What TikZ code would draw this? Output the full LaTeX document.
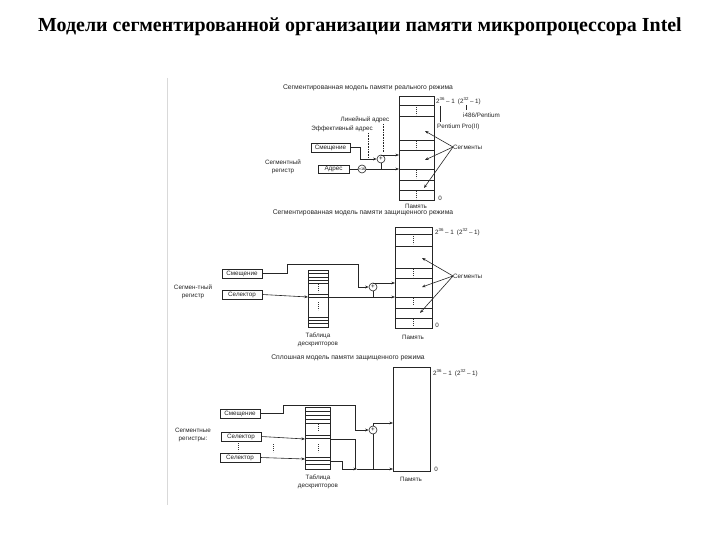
\documentclass[tikz,border=0pt]{standalone}
\usepackage{fontspec}
\setmainfont{Liberation Serif}
\setsansfont{Liberation Sans}
\usetikzlibrary{arrows.meta}
\newcommand\titlefnt{\rmfamily\bfseries\fontsize{20}{22}\selectfont}
\newcommand\lblfnt{\sffamily\fontsize{6.3}{7.5}\selectfont}
\newcommand\ttlfnt{\sffamily\fontsize{6.8}{8}\selectfont}
\newcommand\tinyfnt{\sffamily\fontsize{3.8}{4}\selectfont}
\newcommand\vdotsat[2]{\draw[black!80, line width=1bp, dash pattern=on 0.8bp off 1.2bp] (#1,#2-4) -- (#1,#2+4);}
\tikzset{
  ln/.style={line width=0.6bp, draw=black!85},
  arr/.style={ln, -{Stealth[length=3.6bp,width=2.8bp]}},
  lbl/.style={font=\lblfnt, inner sep=0, text=black!85},
  ttl/.style={font=\ttlfnt, inner sep=0, text=black!85},
  regbox/.style={draw=black!85, line width=0.7bp, font=\lblfnt, inner sep=0, minimum height=9bp, text=black!85},
  adder/.style={circle, draw=black!85, line width=0.6bp, minimum size=8bp, inner sep=0, font=\lblfnt},
  memcol/.style={draw=black!85, line width=0.7bp, inner sep=0, anchor=north west},
}
\begin{document}
\begin{tikzpicture}[x=1bp,y=-1bp]
\useasboundingbox (0,0) rectangle (720,540);
\fill[white] (0,0) rectangle (720,540);
\node[font=\titlefnt, inner sep=0] (title) at (360,27) {Модели сегментированной организации памяти микропроцессора Intel};
\draw[black!15, line width=0.8bp] (167,78) -- (167,505);

% ---------- section 1: real mode ----------
\node[ttl] (t1) at (368,88) {Сегментированная модель памяти реального режима};
\node[memcol, minimum width=35bp, minimum height=104bp] (mem1) at (399,96) {};
\foreach \y in {105,116,140,150,169,180,190} \draw[ln] (399,\y) -- (434,\y);
\vdotsat{416}{111}\vdotsat{416}{145}\vdotsat{416}{174}\vdotsat{416}{195}
\node[lbl, anchor=west] (top1) at (436,101) {2\textsuperscript{36}\,– 1\enspace(2\textsuperscript{32}\,– 1)};
\node[lbl, anchor=west] (i486) at (463,115) {i486/Pentium};
\node[lbl, anchor=west] (ppro) at (437,127) {Pentium Pro(II)};
\coordinate (v1a) at (440,106); \coordinate (v1b) at (440,122);
\coordinate (v2a) at (466,105); \coordinate (v2b) at (466,110);
\draw[ln] (v1a) -- (v1b);
\draw[ln] (v2a) -- (v2b);
\node[lbl, anchor=west] (segs1) at (453,147) {Сегменты};
\coordinate (s1a) at (425,131); \coordinate (s1b) at (425,160); \coordinate (s1c) at (424,188);
\draw[arr] (segs1.west) -- (s1a);
\draw[arr] (segs1.west) -- (s1b);
\draw[arr] (segs1.west) -- (s1c);
\node[lbl] (zero1) at (440,198) {0};
\node[lbl] (pam1) at (416,206) {Память};

\node[lbl] (lin1) at (365,120) {Линейный адрес};
\node[lbl] (eff1) at (342,129) {Эффективный адрес};
\node[regbox, minimum width=39bp] (off1) at (330.5,147.5) {Смещение};
\node[regbox, minimum width=31bp, minimum height=8bp] (adr1) at (333.5,169) {Адрес};
\node[lbl, align=center] (sreg1) at (283,167) {Сегментный\\регистр};
\node[adder, font=\tinyfnt] (mul1) at (362,169) {×16};
\node[adder] (add1) at (381,159) {+};
\coordinate (c1a) at (360,147.5); \coordinate (c1b) at (360,159);
\coordinate (in1) at (399,155);
\draw[arr] (off1.east) -- (c1a) -- (c1b) -- (add1.west);
\draw[ln] (adr1.east) -- (mul1.west);
\draw[arr] (mul1.east) -- (mem1.west |- mul1);
\draw[ln] (add1.south) -- (add1.south |- mul1);
\draw[arr] (add1.north) |- (in1);
\coordinate (d1a) at (383,124); \coordinate (d1b) at (383,152);
\coordinate (d2a) at (368,133); \coordinate (d2b) at (368,157);
\draw[ln, densely dotted] (d1a) -- (d1b);
\draw[ln, densely dotted] (d2a) -- (d2b);

% ---------- section 2: protected mode, segmented ----------
\node[ttl] (t2) at (363,213) {Сегментированная модель памяти защищенного режима};
\node[memcol, minimum width=37bp, minimum height=101bp] (mem2) at (395,227) {};
\foreach \y in {234,246,268,278,297,308,318} \draw[ln] (395,\y) -- (432,\y);
\vdotsat{413}{240}\vdotsat{413}{273}\vdotsat{413}{302}\vdotsat{413}{323}
\node[lbl, anchor=west] (top2) at (435,232) {2\textsuperscript{36}\,– 1\enspace(2\textsuperscript{32}\,– 1)};
\node[lbl, anchor=west] (segs2) at (453,276) {Сегменты};
\coordinate (s2a) at (422,258); \coordinate (s2b) at (422,287); \coordinate (s2c) at (420,313);
\draw[arr] (segs2.west) -- (s2a);
\draw[arr] (segs2.west) -- (s2b);
\draw[arr] (segs2.west) -- (s2c);
\node[lbl] (zero2) at (437,325) {0};
\node[lbl] (pam2) at (413,337) {Память};

\node[regbox, minimum width=40bp] (off2) at (242,273.5) {Смещение};
\node[regbox, minimum width=40bp] (sel2) at (242,294.5) {Селектор};
\node[lbl, align=center] (sreg2) at (193,292) {Сегмен-тный\\регистр};
\node[memcol, minimum width=20bp, minimum height=57bp] (tab2) at (308,270) {};
\foreach \y in {273,277,280,283,294,297,317,320,323} \draw[ln] (308,\y) -- (328,\y);
\vdotsat{318}{288}\vdotsat{318}{306}
\node[lbl, align=center] (tabl2) at (318,340) {Таблица\\дескрипторов};
\node[adder] (add2) at (373,287) {+};
\coordinate (c2a) at (287,273.5); \coordinate (c2b) at (287,264);
\coordinate (c2c) at (358,264); \coordinate (c2d) at (358,287);
\draw[arr] (off2.east) -- (c2a) -- (c2b) -- (c2c) -- (c2d) -- (add2.west);
\coordinate (s2in) at (308,297); \coordinate (s2out) at (328,297);
\coordinate (m2in) at (395,283);
\draw[arr] (sel2.east) -- (s2in);
\draw[arr] (s2out) -- (mem2.west |- s2out);
\draw[ln] (add2.south) -- (add2.south |- s2out);
\draw[arr] (add2.north) |- (m2in);

% ---------- section 3: flat model ----------
\node[ttl] (t3) at (348,358) {Сплошная модель памяти защищенного режима};
\node[memcol, minimum width=37bp, minimum height=104bp] (mem3) at (393,367) {};
\node[lbl, anchor=west] (top3) at (433,373) {2\textsuperscript{36}\,– 1\enspace(2\textsuperscript{32}\,– 1)};
\node[lbl] (zero3) at (436,469) {0};
\node[lbl] (pam3) at (411,479) {Память};

\node[regbox, minimum width=40bp] (off3) at (240,413.5) {Смещение};
\node[regbox, minimum width=40bp] (sel3a) at (241,436.5) {Селектор};
\node[regbox, minimum width=40bp] (sel3b) at (240,457.5) {Селектор};
\vdotsat{238}{447}\vdotsat{273}{448}
\node[lbl, align=center] (sreg3) at (193,435) {Сегментные\\регистры:};
\node[memcol, minimum width=25bp, minimum height=62bp] (tab3) at (305,407) {};
\foreach \y in {411,415,419,423,435,438,457,460,464} \draw[ln] (305,\y) -- (330,\y);
\vdotsat{318}{428}\vdotsat{318}{448}
\node[lbl, align=center] (tabl3) at (318,482) {Таблица\\дескрипторов};
\node[adder] (add3) at (373,430) {+};
\coordinate (c3a) at (283,413.5); \coordinate (c3b) at (283,405);
\coordinate (c3c) at (355,405); \coordinate (c3d) at (355,430);
\draw[arr] (off3.east) -- (c3a) -- (c3b) -- (c3c) -- (c3d) -- (add3.west);
\coordinate (t3in1) at (305,439); \coordinate (t3out1) at (330,439);
\coordinate (j1) at (355,439); \coordinate (j2) at (355,469);
\coordinate (t3in2) at (305,459); \coordinate (t3out2) at (330,461);
\coordinate (k1) at (342,461); \coordinate (k2) at (342,469); \coordinate (k3) at (357,469);
\coordinate (m3base) at (393,469); \coordinate (m3top) at (393,423);
\coordinate (b3) at (373,469);
\draw[arr] (sel3a.east) -- (t3in1);
\draw[ln] (t3out1) -- (j1) -- (j2);
\draw[arr] (sel3b.east) -- (t3in2);
\draw[arr] (t3out2) -- (k1) -- (k2) -- (k3);
\draw[arr] (k3) -- (m3base);
\draw[ln] (add3.south) -- (b3);
\draw[arr] (add3.north) |- (m3top);
\end{tikzpicture}
\end{document}
